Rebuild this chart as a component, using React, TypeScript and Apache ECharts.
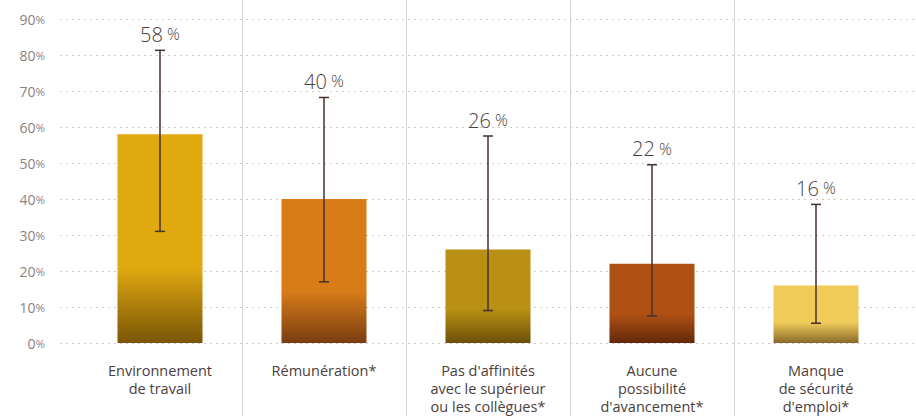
import React, { useEffect, useRef } from "react";
import * as echarts from "echarts";

const categories = [
  "Environnement\nde travail",
  "Rémunération*",
  "Pas d'affinités\navec le supérieur\nou les collègues*",
  "Aucune\npossibilité\nd'avancement*",
  "Manque\nde sécurité\nd'emploi*",
];
const values = [58, 40, 26, 22, 16];
const errLow = [31, 17, 9, 7.5, 5.5];
const errHigh = [81.3, 68.2, 57.5, 49.5, 38.5];
const topColors = ["#E0A910", "#D77C19", "#B98F14", "#AE4F14", "#F0CB5A"];
const bottomColors = ["#7A5507", "#7A3D10", "#6E4F08", "#64280A", "#8A6A2A"];
const yTicks = [0, 10, 20, 30, 40, 50, 60, 70, 80, 90];

const FONT = "'Open Sans', Lato, sans-serif";

export default function App() {
  const ref = useRef<HTMLDivElement>(null);
  useEffect(() => {
    if (!ref.current) return;
    const chart = echarts.init(ref.current, undefined, { renderer: "svg" });
    const gridTop = 19;
    const gridBottom = 73;
    chart.setOption({
      animation: false,
      backgroundColor: "#ffffff",
      grid: [
        { left: 60, right: 0, top: gridTop, bottom: gridBottom },
        { left: 78, right: 18, top: gridTop, bottom: gridBottom },
        { left: 78, right: 18, top: 0, bottom: 0 },
      ],
      xAxis: [
        { type: "value", gridIndex: 0, show: false, min: 0, max: 1 },
        {
          type: "category",
          gridIndex: 1,
          data: categories,
          axisLine: { show: false },
          axisTick: { show: false },
          axisLabel: {
            interval: 0,
            margin: 18,
            color: "#4b3e3e",
            fontFamily: FONT,
            fontSize: 14.5,
            lineHeight: 18,
            align: "center",
          },
          splitLine: { show: false },
        },
        {
          type: "category",
          gridIndex: 2,
          data: categories,
          axisLine: { show: false },
          axisTick: { show: false },
          axisLabel: { show: false },
          splitLine: {
            show: true,
            showMinLine: false,
            showMaxLine: false,
            interval: 0,
            lineStyle: { color: "#d9d1cf", width: 1 },
          },
        },
      ],
      yAxis: [
        {
          type: "value",
          gridIndex: 0,
          min: 0,
          max: 90,
          interval: 10,
          axisLine: { show: false },
          axisTick: { show: false },
          axisLabel: {
            margin: 15,
            formatter: (v: number) =>
              yTicks.includes(v) ? `{n|${v}}{p|%}` : "",
            rich: {
              n: { fontFamily: FONT, fontSize: 14, color: "#8c7f7f" },
              p: { fontFamily: FONT, fontSize: 11.5, color: "#8c7f7f" },
            },
          },
          splitLine: {
            show: true,
            lineStyle: { color: "#cfcaca", type: [2, 4], width: 1 },
          },
        },
        { type: "value", gridIndex: 1, min: 0, max: 90, show: false },
        { type: "value", gridIndex: 2, min: 0, max: 1, show: false },
      ],
      series: [
        {
          type: "bar",
          xAxisIndex: 1,
          yAxisIndex: 1,
          barWidth: 85,
          data: values.map((v, i) => ({
            value: v,
            itemStyle: {
              color: new echarts.graphic.LinearGradient(0, 0, 0, 1, [
                { offset: 0, color: topColors[i] },
                { offset: 0.64, color: topColors[i] },
                { offset: 1, color: bottomColors[i] },
              ]),
            },
          })),
          z: 2,
        },
        {
          type: "custom",
          xAxisIndex: 1,
          yAxisIndex: 1,
          z: 5,
          data: values.map((v, i) => [i, errLow[i], errHigh[i], v]),
          renderItem: (params: any, api: any) => {
            const x = api.coord([api.value(0), 0])[0];
            const lo = api.coord([api.value(0), api.value(1)])[1];
            const hi = api.coord([api.value(0), api.value(2)])[1];
            const v = api.value(3);
            const half = 5;
            const style = { stroke: "#45302c", lineWidth: 1.5 };
            return {
              type: "group",
              children: [
                { type: "line", shape: { x1: x, y1: lo, x2: x, y2: hi }, style },
                { type: "line", shape: { x1: x - half, y1: hi, x2: x + half, y2: hi }, style },
                { type: "line", shape: { x1: x - half, y1: lo, x2: x + half, y2: lo }, style },
                {
                  type: "text",
                  x: x,
                  y: hi - 6,
                  style: {
                    text: `{n|${v}}{p| %}`,
                    align: "center",
                    verticalAlign: "bottom",
                    rich: {
                      n: { fontFamily: FONT, fontSize: 20, fontWeight: 300, fill: "#4b3e3e", color: "#4b3e3e" },
                      p: { fontFamily: FONT, fontSize: 16, fontWeight: 300, fill: "#4b3e3e", color: "#4b3e3e" },
                    },
                  },
                },
              ],
            };
          },
        },
      ],
    });
    return () => chart.dispose();
  }, []);
  return <div ref={ref} style={{ width: 916, height: 416, position: "absolute", left: 0, top: 0 }} />;
}
